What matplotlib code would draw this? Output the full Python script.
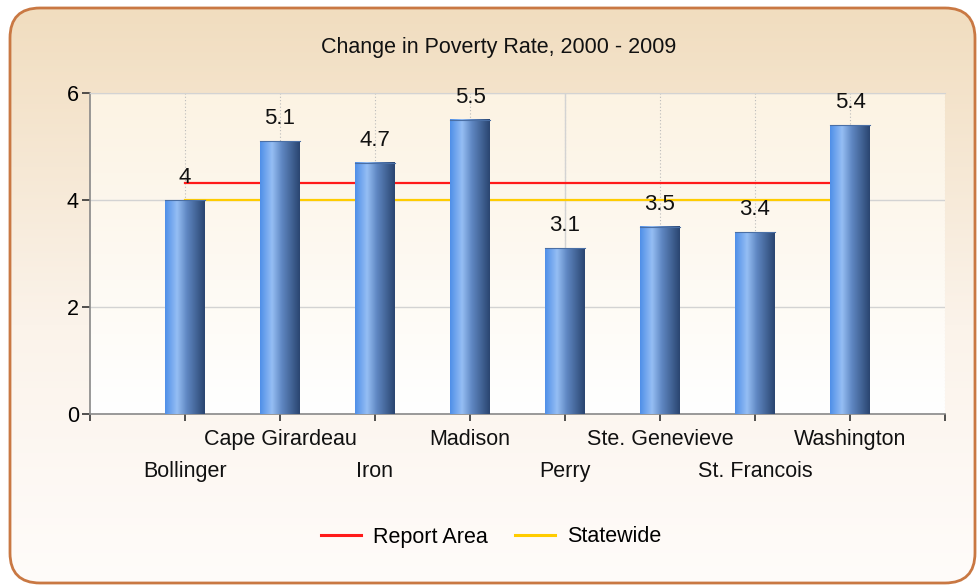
import numpy as np
import matplotlib
matplotlib.use("Agg")
import matplotlib.pyplot as plt
from matplotlib.patches import FancyBboxPatch
from matplotlib.colors import LinearSegmentedColormap
from matplotlib.lines import Line2D

categories = ["Bollinger", "Cape Girardeau", "Iron", "Madison", "Perry",
              "Ste. Genevieve", "St. Francois", "Washington"]
values = [4.0, 5.1, 4.7, 5.5, 3.1, 3.5, 3.4, 5.4]
value_labels = ["4", "5.1", "4.7", "5.5", "3.1", "3.5", "3.4", "5.4"]
report_area = 4.32
statewide = 4.0
y_ticks = [0, 2, 4, 6]
title = "Change in Poverty Rate, 2000 - 2009"

plt.rcParams['font.family'] = ['Liberation Sans', 'DejaVu Sans']
FS = 15.5

W, H = 977, 587
fig = plt.figure(figsize=(W / 100, H / 100), dpi=100)
fig.patch.set_facecolor("white")

# background axes for the rounded panel
bg = fig.add_axes([0, 0, 1, 1])
bg.set_xlim(0, W)
bg.set_ylim(0, H)
bg.axis("off")
panel_grad = LinearSegmentedColormap.from_list(
    "pg", [(0, "#FFFCFA"), (0.45, "#FBF3EA"), (1.0, "#F1DDBF")])
grad = np.linspace(0, 1, 256).reshape(-1, 1)
im = bg.imshow(grad, extent=[10, 975, 4, 579], origin="lower", aspect="auto",
               cmap=panel_grad, zorder=0)
box = FancyBboxPatch((10 + 30, 4 + 30), 965 - 60, 575 - 60,
                     boxstyle="round,pad=30", facecolor="none",
                     edgecolor="#C97843", linewidth=2, zorder=2)
bg.add_patch(box)
im.set_clip_path(box)

# main axes
ax = fig.add_axes([90 / W, 1 - 414 / H, (945 - 90) / W, (414 - 93) / H])
ax.set_facecolor("none")
x = np.arange(1, len(categories) + 1)
ax.set_xlim(0, len(categories) + 1)
ax.set_ylim(0, 6)

plot_grad = LinearSegmentedColormap.from_list("pl", ["#FFFFFF", "#FCF3E3"])
ax.imshow(grad, extent=[0, len(categories) + 1, 0, 6], origin="lower",
          aspect="auto", cmap=plot_grad, zorder=0)

# gridlines
for yt in y_ticks[1:]:
    ax.axhline(yt, color="#D3D3D3", linewidth=1, zorder=1)
for xi in x:
    ax.axvline(xi, color="#BBBBBB", linewidth=0.8, linestyle=(0, (1, 2)), zorder=1)
ax.axvline(len(categories) + 1, color="#BBBBBB", linewidth=0.8,
           linestyle=(0, (1, 2)), zorder=1)
ax.axvline((len(categories) + 1) / 2 + 0.5, color="#D3D3D3", linewidth=1, zorder=1)

# reference lines
ax.plot([x[0], x[-1]], [report_area, report_area], color="#FF1A1A", linewidth=1.6, zorder=2)
ax.plot([x[0], x[-1]], [statewide, statewide], color="#FFCC00", linewidth=1.6, zorder=2)

# bars with gradient
bar_cmap = LinearSegmentedColormap.from_list(
    "bar", [(0, "#4F8FE8"), (0.3, "#95BEF4"), (0.55, "#5F87C2"), (1.0, "#2A4570")])
bars = ax.bar(x, values, width=0.42, color="none", edgecolor="none", zorder=3)
hgrad = np.linspace(0, 1, 128).reshape(1, -1)
for b in bars:
    bx, bw, bh = b.get_x(), b.get_width(), b.get_height()
    ax.imshow(hgrad, extent=[bx, bx + bw, 0, bh], origin="lower", aspect="auto",
              cmap=bar_cmap, zorder=3)
    ax.plot([bx, bx + bw], [bh, bh], color="#4A6FA5", linewidth=0.8, zorder=4)

for xi, v, lab in zip(x, values, value_labels):
    ax.annotate(lab, (xi, v), xytext=(0, 12), textcoords="offset points",
                ha="center", va="baseline", fontsize=FS + 0.5, color="#111111",
                zorder=5)

# axes styling
ax.spines["right"].set_visible(False)
ax.spines["top"].set_color("#D3D3D3")
ax.spines["left"].set_color("#888888")
ax.spines["bottom"].set_color("#888888")
ax.spines["left"].set_linewidth(1.2)
ax.spines["bottom"].set_linewidth(1.2)

ax.set_yticks(y_ticks)
ax.set_yticklabels([str(t) for t in y_ticks], fontsize=FS)
ax.tick_params(axis="y", length=6, width=1.2, color="#333333", pad=2)

ax.set_xticks(np.concatenate([[0], x, [len(categories) + 1]]))
ax.set_xticklabels([""] * (len(categories) + 2))
ax.tick_params(axis="x", length=5, width=1.2, color="#333333", direction="out")

for i, (xi, cat) in enumerate(zip(x, categories)):
    yoff = -0.08 if i % 2 == 1 else -0.178
    ax.text(xi, yoff, cat, transform=ax.get_xaxis_transform(), ha="center",
            va="center", fontsize=FS, color="#111111")

fig.text(499 / W, 1 - 47 / H, title, ha="center", va="center", fontsize=FS,
         color="#111111")

handles = [Line2D([0], [0], color="#FF1A1A", linewidth=2.2),
           Line2D([0], [0], color="#FFCC00", linewidth=2.2)]
fig.legend(handles, ["Report Area", "Statewide"], loc="center",
           bbox_to_anchor=(491 / W, 1 - 537 / H), ncol=2, frameon=False,
           fontsize=FS, handlelength=1.85, columnspacing=1.3, handletextpad=0.55)

fig.savefig("out.png", dpi=100, facecolor="white")
